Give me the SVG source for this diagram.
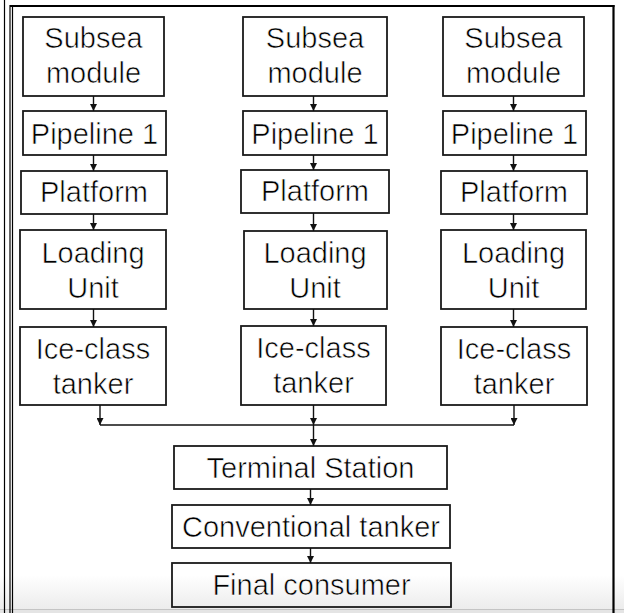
<svg xmlns="http://www.w3.org/2000/svg" width="624" height="613" viewBox="0 0 624 613">
<style>
.box{fill:none;stroke:#1a1a1a;stroke-width:1.8}
.t{font-family:"Liberation Sans",Arial,sans-serif;font-size:29px;fill:#000;text-anchor:middle;stroke:#fff;stroke-width:0.6;paint-order:fill}
.c{fill:none;stroke:#111;stroke-width:1.4}
.frame{fill:none;stroke:#000}
</style>
<defs>
<linearGradient id="bg" x1="0" y1="0" x2="0" y2="1">
<stop offset="0" stop-color="#ffffff"/>
<stop offset="1" stop-color="#ececec"/>
</linearGradient>
<marker id="ah" markerWidth="7" markerHeight="7" refX="7" refY="3.5" orient="auto" markerUnits="userSpaceOnUse">
<path d="M0,0 L7,3.5 L0,7 z" fill="#111"/>
</marker>
</defs>
<rect x="0" y="0" width="624" height="613" fill="#fff"/>
<rect x="0" y="575" width="624" height="34" fill="url(#bg)"/>
<rect x="0" y="609" width="624" height="4" fill="#e4e4e4"/>
<line x1="0" y1="609.5" x2="624" y2="609.5" stroke="#c4c4c4" stroke-width="1"/>
<g id="frame">
<line class="frame" x1="4.5" y1="0" x2="4.5" y2="613" stroke-width="1.2"/>
<line class="frame" x1="10" y1="5" x2="10" y2="613" stroke-width="1.2"/>
<line class="frame" x1="12.5" y1="5" x2="12.5" y2="613" stroke-width="1.2"/>
<line class="frame" x1="10" y1="6" x2="614.5" y2="6" stroke-width="2.2"/>
<line class="frame" x1="613.5" y1="5" x2="613.5" y2="613" stroke-width="2.2"/>
</g>
<g id="c1-subsea"><rect class="box" x="23" y="17" width="141" height="79"/><text class="t" x="93.5" y="48">Subsea</text><text class="t" x="93.5" y="83">module</text></g>
<g id="c1-pipeline"><rect class="box" x="23" y="111" width="143" height="44"/><text class="t" x="94.5" y="144">Pipeline 1</text></g>
<g id="c1-platform"><rect class="box" x="21" y="171" width="146" height="43"/><text class="t" x="94" y="202">Platform</text></g>
<g id="c1-loading"><rect class="box" x="20" y="230" width="146" height="79"/><text class="t" x="93" y="263">Loading</text><text class="t" x="93" y="298">Unit</text></g>
<g id="c1-tanker"><rect class="box" x="20" y="327" width="146" height="78"/><text class="t" x="93" y="359">Ice-class</text><text class="t" x="93" y="394">tanker</text></g>
<g id="c2-subsea"><rect class="box" x="243" y="17" width="144" height="79"/><text class="t" x="315" y="48">Subsea</text><text class="t" x="315" y="83">module</text></g>
<g id="c2-pipeline"><rect class="box" x="243" y="111" width="144" height="44"/><text class="t" x="315" y="144">Pipeline 1</text></g>
<g id="c2-platform"><rect class="box" x="241" y="170" width="148" height="43"/><text class="t" x="315" y="201">Platform</text></g>
<g id="c2-loading"><rect class="box" x="244" y="231" width="143" height="78"/><text class="t" x="315" y="263">Loading</text><text class="t" x="315" y="298">Unit</text></g>
<g id="c2-tanker"><rect class="box" x="241" y="326" width="145" height="79"/><text class="t" x="313.5" y="358">Ice-class</text><text class="t" x="313.5" y="393">tanker</text></g>
<g id="c3-subsea"><rect class="box" x="443" y="17" width="141" height="79"/><text class="t" x="513.5" y="48">Subsea</text><text class="t" x="513.5" y="83">module</text></g>
<g id="c3-pipeline"><rect class="box" x="443" y="111" width="143" height="44"/><text class="t" x="514.5" y="144">Pipeline 1</text></g>
<g id="c3-platform"><rect class="box" x="441" y="171" width="146" height="43"/><text class="t" x="514" y="202">Platform</text></g>
<g id="c3-loading"><rect class="box" x="441" y="230" width="145" height="79"/><text class="t" x="513.5" y="263">Loading</text><text class="t" x="513.5" y="298">Unit</text></g>
<g id="c3-tanker"><rect class="box" x="441" y="327" width="146" height="78"/><text class="t" x="514" y="359">Ice-class</text><text class="t" x="514" y="394">tanker</text></g>
<g id="terminal"><rect class="box" x="174" y="446" width="273" height="43"/><text class="t" x="310.5" y="478">Terminal Station</text></g>
<g id="conventional"><rect class="box" x="172" y="505" width="278" height="43"/><text class="t" x="311" y="537">Conventional tanker</text></g>
<g id="final"><rect class="box" x="172" y="563" width="279" height="44"/><text class="t" x="311.5" y="595">Final consumer</text></g>
<g id="connectors">
<line class="c" x1="93.5" y1="96" x2="93.5" y2="111" marker-end="url(#ah)"/>
<line class="c" x1="93.5" y1="155" x2="93.5" y2="171" marker-end="url(#ah)"/>
<line class="c" x1="93.5" y1="214" x2="93.5" y2="230" marker-end="url(#ah)"/>
<line class="c" x1="93.5" y1="309" x2="93.5" y2="327" marker-end="url(#ah)"/>
<line class="c" x1="313.5" y1="96" x2="313.5" y2="111" marker-end="url(#ah)"/>
<line class="c" x1="313.5" y1="155" x2="313.5" y2="170" marker-end="url(#ah)"/>
<line class="c" x1="313.5" y1="213" x2="313.5" y2="231" marker-end="url(#ah)"/>
<line class="c" x1="313.5" y1="309" x2="313.5" y2="326" marker-end="url(#ah)"/>
<line class="c" x1="513.5" y1="96" x2="513.5" y2="111" marker-end="url(#ah)"/>
<line class="c" x1="513.5" y1="155" x2="513.5" y2="171" marker-end="url(#ah)"/>
<line class="c" x1="513.5" y1="214" x2="513.5" y2="230" marker-end="url(#ah)"/>
<line class="c" x1="513.5" y1="309" x2="513.5" y2="327" marker-end="url(#ah)"/>
<line class="c" x1="100" y1="405" x2="100" y2="425" marker-end="url(#ah)"/>
<line class="c" x1="313.5" y1="405" x2="313.5" y2="425" marker-end="url(#ah)"/>
<line class="c" x1="514" y1="405" x2="514" y2="425" marker-end="url(#ah)"/>
<line class="c" x1="100" y1="425" x2="514" y2="425"/>
<line class="c" x1="313.5" y1="425" x2="313.5" y2="446" marker-end="url(#ah)"/>
<line class="c" x1="310.5" y1="489" x2="310.5" y2="505" marker-end="url(#ah)"/>
<line class="c" x1="310.5" y1="548" x2="310.5" y2="563" marker-end="url(#ah)"/>
</g>
</svg>
